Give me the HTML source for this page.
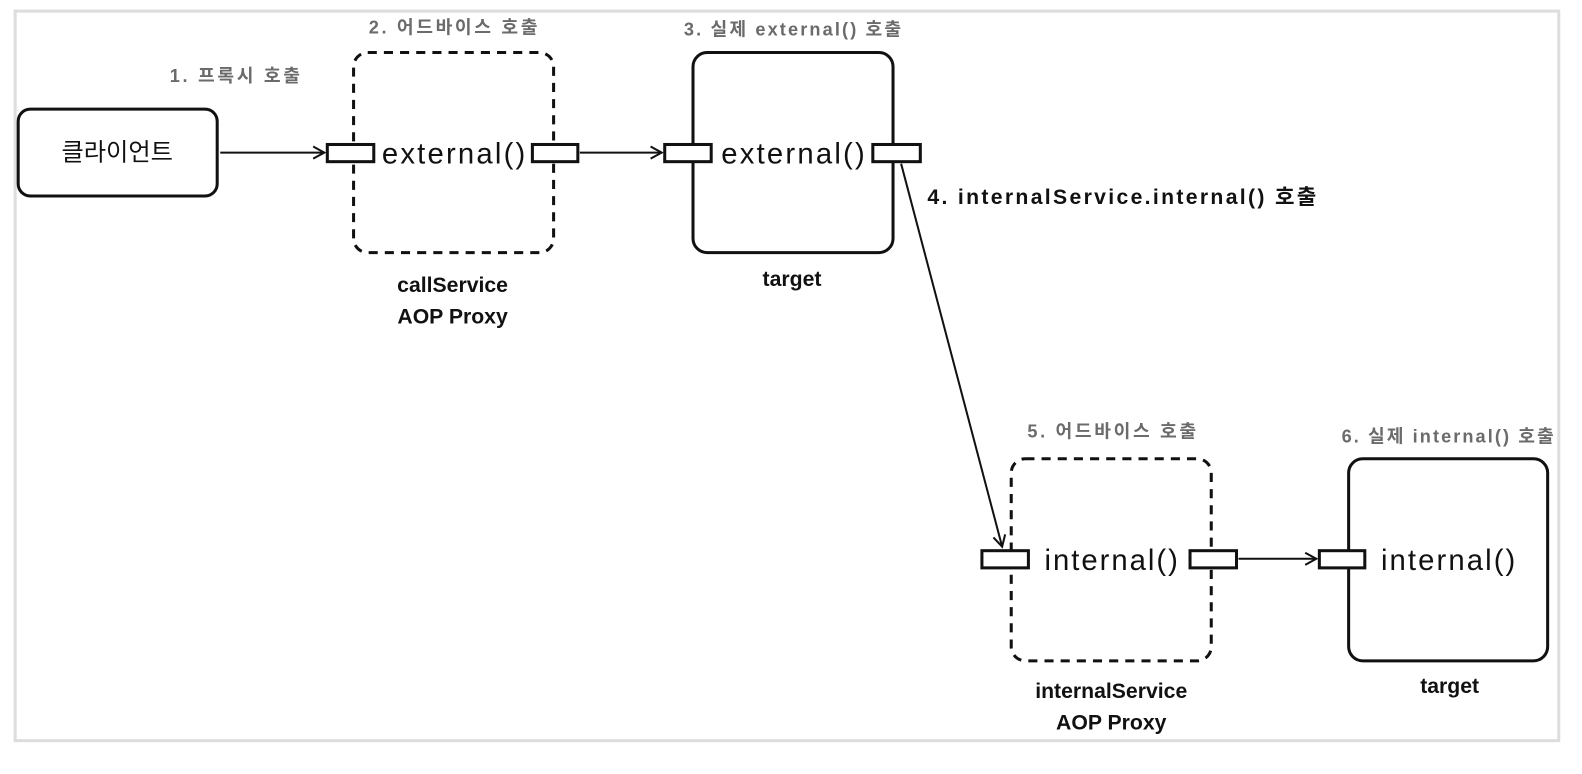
<!DOCTYPE html>
<html><head><meta charset="utf-8"><style>
html,body{margin:0;padding:0;background:#fff;width:1582px;height:774px;overflow:hidden}
svg{display:block}
text{font-family:"Liberation Sans","Noto Sans CJK KR","NanumGothic",sans-serif}
.g{fill:#6b6b6b;font-weight:bold;font-size:18px}
.b{fill:#111;font-weight:bold;font-size:21px}
.m{fill:#111;font-size:29px}
</style></head><body>
<svg width="1582" height="774" viewBox="0 0 1566 766" preserveAspectRatio="none" xmlns="http://www.w3.org/2000/svg">
<defs>
<marker id="a" markerWidth="14" markerHeight="14" refX="12" refY="7" orient="auto" markerUnits="userSpaceOnUse">
<path d="M1,1 L12,7 L1,13" fill="none" stroke="#111" stroke-width="2"/>
</marker>
</defs>
<rect x="15" y="11" width="1528" height="722" fill="none" stroke="#ddd" stroke-width="3"/>
<g fill="none" stroke="#111" stroke-width="3">
<rect x="18" y="108" width="197" height="86" rx="12"/>
<rect x="350" y="52" width="198" height="198" rx="14" stroke-dasharray="9,7"/>
<rect x="686" y="52" width="198" height="198" rx="14"/>
<rect x="1001" y="454" width="198" height="200" rx="14" stroke-dasharray="9,7"/>
<rect x="1335" y="454" width="197" height="200" rx="14"/>
</g>
<g fill="#fff" stroke="#111" stroke-width="3">
<rect x="324" y="143" width="46" height="17"/>
<rect x="527" y="143" width="45" height="17"/>
<rect x="658" y="143" width="46" height="17"/>
<rect x="864" y="143" width="47" height="17"/>
<rect x="972" y="545" width="46" height="17"/>
<rect x="1178" y="545" width="46" height="17"/>
<rect x="1306" y="545" width="45" height="17"/>
</g>
<g stroke="#111" stroke-width="2" fill="none" marker-end="url(#a)">
<line x1="218" y1="151" x2="321" y2="151"/>
<line x1="574" y1="151" x2="655" y2="151"/>
<line x1="892" y1="162" x2="992" y2="541"/>
<line x1="1226" y1="553" x2="1303" y2="553"/>
</g>
<text x="116" y="159" font-size="24" text-anchor="middle" fill="#111">클라이언트</text>
<text class="g" x="168" y="81" textLength="129">1. 프록시 호출</text>
<text class="g" x="365" y="33" textLength="167">2. 어드바이스 호출</text>
<text class="g" x="677" y="35" textLength="215">3. 실제 external() 호출</text>
<text class="g" x="1017" y="433" textLength="167">5. 어드바이스 호출</text>
<text class="g" x="1328" y="438" textLength="210">6. 실제 internal() 호출</text>
<text class="m" x="378" y="162" textLength="142">external()</text>
<text class="m" x="714" y="162" textLength="142">external()</text>
<text class="m" x="1034" y="564" textLength="132">internal()</text>
<text class="m" x="1367" y="564" textLength="133">internal()</text>
<text class="b" x="448" y="289" text-anchor="middle">callService</text>
<text class="b" x="448" y="320" text-anchor="middle">AOP Proxy</text>
<text class="b" x="784" y="283" text-anchor="middle">target</text>
<text class="b" x="918" y="202" textLength="385">4. internalService.internal() 호출</text>
<text class="b" x="1100" y="691" text-anchor="middle">internalService</text>
<text class="b" x="1100" y="722" text-anchor="middle">AOP Proxy</text>
<text class="b" x="1435" y="686" text-anchor="middle">target</text>
</svg>
</body></html>
